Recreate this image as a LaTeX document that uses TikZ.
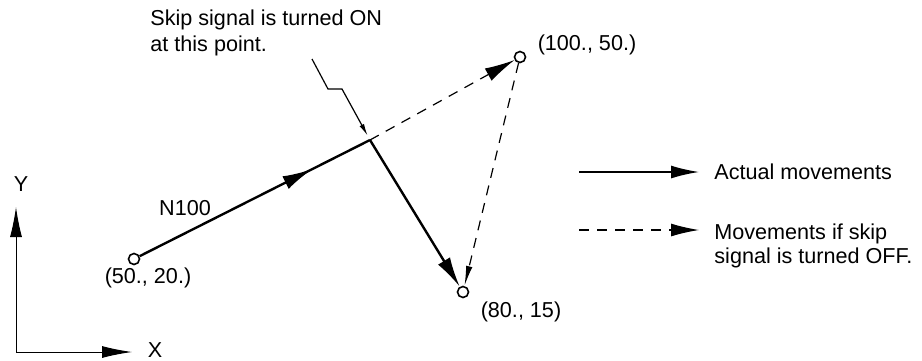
\documentclass[tikz,border=0pt]{standalone}
\usepackage{fontspec}
\setmainfont{Liberation Sans}
\usetikzlibrary{arrows.meta, positioning, calc, decorations.markings}

\begin{document}
\begin{tikzpicture}[
    x=0.5pt, y=-0.5pt,
    every node/.style={font=\fontsize{10.8}{12.2}\selectfont},
    pt/.style={circle, draw, line width=0.8pt, fill=white, minimum size=5.5pt, inner sep=0pt},
    lbl/.style={inner sep=0pt, align=left},
    actual/.style={line width=1.2pt},
    skipoff/.style={line width=0.6pt, dash pattern=on 5pt off 4pt},
    bigtip/.style={-{Latex[length=15pt, width=7pt]}},
    slimtip/.style={-{Latex[length=10pt, width=3.2pt]}},
    midarrow/.style={postaction={decorate}, decoration={markings, mark=at position #1 with {\arrow{Latex[length=15pt, width=7pt]}}}},
    leader/.style={line width=0.6pt, -{Latex[length=6pt, width=2.5pt]}, shorten >=2.5pt},
    axis/.style={line width=0.5pt, -{Latex[length=15pt, width=6pt]}}
]
    \useasboundingbox (0,0) rectangle (922,360);

    % Points
    \node[pt] (start) at (134,259) {};
    \node[pt] (off) at (520,57) {};
    \node[pt] (endp) at (463,292) {};
    \coordinate (turn) at (370,140);

    % Point labels
    \node[lbl] (startlbl) at (148,278) {(50., 20.)};
    \node[lbl] (offlbl) at (587,45) {(100., 50.)};
    \node[lbl] (endlbl) at (521,312) {(80., 15)};
    \node[lbl] (block) at (185,208) {N100};

    % Note on the skip signal
    \node[lbl, anchor=west] (note) at (150,33) {Skip signal is turned ON\\[1pt]at this point.};
    \coordinate (ldA) at (312,59);
    \coordinate (ldB) at (328,89);
    \coordinate (ldC) at (342,89);
    \draw[leader] (ldA) -- (ldB) -- (ldC) -- (turn);

    % Movements
    \draw[actual, midarrow=0.75] (start) -- (turn);
    \draw[actual, bigtip] (turn) -- (endp);
    \draw[skipoff, bigtip] (turn) -- (off);
    \draw[skipoff, slimtip] (off) -- (endp);

    % Axes
    \coordinate (org) at (16,352);
    \node[lbl] (ylbl) at (21,184) {Y};
    \node[lbl] (xlbl) at (155,350) {X};
    \draw[axis] (org) -- ++(0,-145);
    \draw[axis] (org) -- ++(116,0);

    % Legend
    \node[lbl, anchor=west] (legact) at (714,172) {Actual movements};
    \node[lbl, anchor=west] (legoff) at (714,246) {Movements if skip\\[0pt]signal is turned OFF.};
    \coordinate (legA) at (579,172);
    \coordinate (legB) at (579,230);
    \draw[line width=0.8pt, -{Latex[length=14pt, width=6.5pt]}] (legA) -- ([xshift=-7.5pt]legA -| legact.west);
    \draw[skipoff, -{Latex[length=14pt, width=6.5pt]}] (legB) -- ([xshift=-7.5pt]legB -| legoff.west);
\end{tikzpicture}
\end{document}
